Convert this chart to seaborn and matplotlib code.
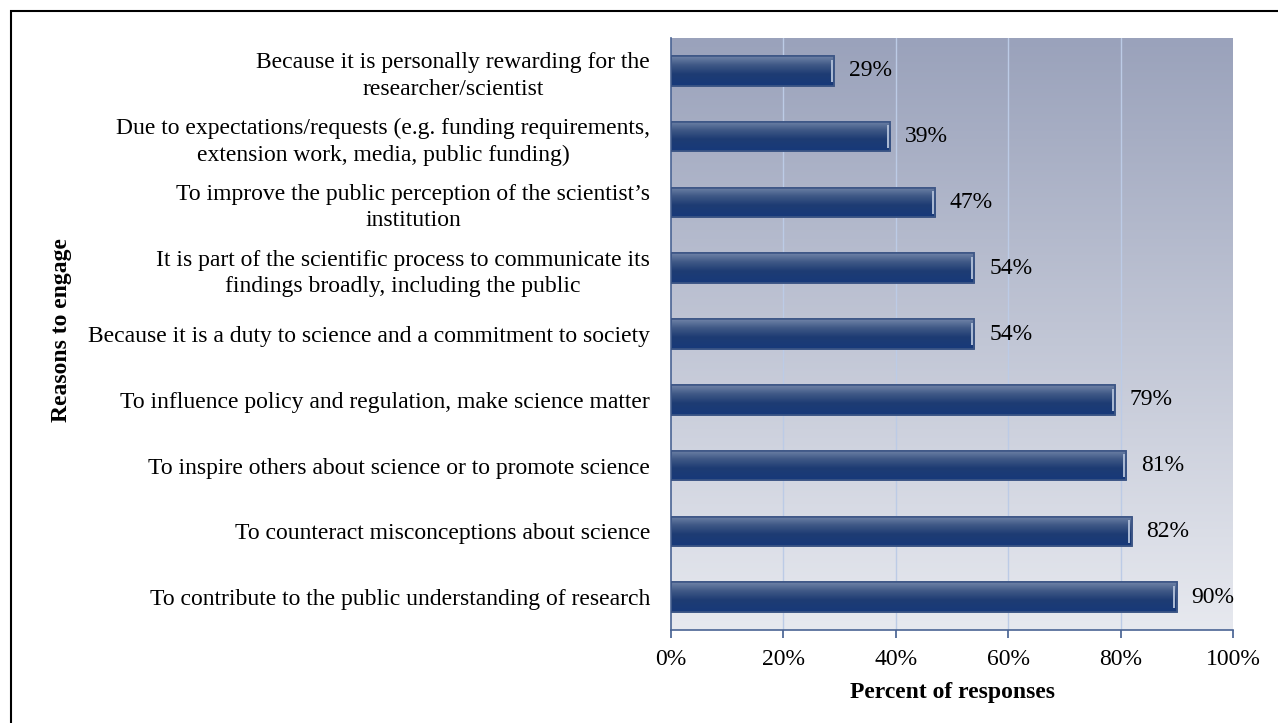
import numpy as np
import pandas as pd
import matplotlib
matplotlib.use("Agg")
import matplotlib.pyplot as plt
import seaborn as sns
from matplotlib.colors import LinearSegmentedColormap
from matplotlib.patches import Rectangle

categories = [
    "Because it is personally rewarding for the\nresearcher/scientist",
    "Due to expectations/requests (e.g. funding requirements,\nextension work, media, public funding)",
    "To improve the public perception of the scientist\u2019s\ninstitution",
    "It is part of the scientific process to communicate its\nfindings broadly, including the public",
    "Because it is a duty to science and a commitment to society",
    "To influence policy and regulation, make science matter",
    "To inspire others about science or to promote science",
    "To counteract misconceptions about science",
    "To contribute to the public understanding of research",
]
values = [29, 39, 47, 54, 54, 79, 81, 82, 90]
xticks = [0, 20, 40, 60, 80, 100]

sns.set_theme(style="white")
plt.rcParams['font.family'] = ['Liberation Serif', 'DejaVu Serif']
FS = 17

fig = plt.figure(figsize=(12.78, 7.23), dpi=100)
ax = fig.add_axes([671/1278, 1 - 630/723, (1233-671)/1278, (630-38)/723])

df = pd.DataFrame({"reason": categories, "pct": values})

# background gradient
cmap = LinearSegmentedColormap.from_list("bg", ["#9aa2bb", "#e7e9ef"])
grad = np.linspace(0, 1, 256).reshape(-1, 1)
ax.imshow(grad, cmap=cmap, aspect="auto", extent=[0, 100, 8.5, -0.5], zorder=0)

for xv in xticks[1:-1]:
    ax.axvline(xv, color="#bccbe6", lw=1, zorder=1)

sns.barplot(data=df, x="pct", y="reason", orient="h", color="#1c3f7a",
            width=0.45, saturation=1, edgecolor="#3d5686", linewidth=1.2, ax=ax, zorder=2)

# glossy vertical gradient inside each bar
bar_cmap = LinearSegmentedColormap.from_list(
    "bar", [(0, "#7084a8"), (0.3, "#3f5886"), (0.6, "#1e3c73"), (1, "#17397a")])
for p in list(ax.patches):
    x0, y0 = p.get_x(), p.get_y()
    w, h = p.get_width(), p.get_height()
    im = ax.imshow(grad, cmap=bar_cmap, aspect="auto",
                   extent=[x0, x0 + w, y0 + h, y0], zorder=2.5)
    im.set_clip_path(p)
    ax.add_patch(Rectangle((x0 + w - 0.6, y0 + h*0.12), 0.35, h*0.76,
                           color="#a9b8d2", lw=0, zorder=3))
    ax.add_patch(Rectangle((x0, y0), w, h, fill=False, edgecolor="#3d5686",
                           lw=1.2, zorder=3.5))

for i, v in enumerate(values):
    ax.text(v + 2.6, i, f"{v}%", va="center", ha="left", fontsize=FS, color="black", zorder=4)

ax.set_xlim(0, 100)
ax.set_ylim(8.5, -0.5)
ax.set_xticks(xticks)
ax.set_xticklabels([f"{t}%" for t in xticks], fontsize=FS, color="black")
ax.tick_params(axis="x", which="both", bottom=True, length=6, color="#4a6494", pad=8)
ax.tick_params(axis="y", length=0, pad=15, labelsize=FS, labelcolor="black")
for lbl in ax.get_yticklabels():
    lbl.set_multialignment("center")
    lbl.set_linespacing(1.32)

for s in ["top", "right"]:
    ax.spines[s].set_visible(False)
for s in ["left", "bottom"]:
    ax.spines[s].set_color("#4a6494")
    ax.spines[s].set_linewidth(1.2)

ax.set_xlabel("Percent of responses", fontsize=FS, fontweight="bold", labelpad=8, color="black")
ax.set_ylabel("")
fig.text(61/1278, 1 - 330/723, "Reasons to engage", rotation=90, fontsize=FS,
         fontweight="bold", ha="center", va="center", color="black")

# figure border (top and left visible)
fig.add_artist(Rectangle((11/1278, -0.1), 1.2, 1 - 11/723 + 0.1, transform=fig.transFigure,
                         fill=False, edgecolor="black", lw=1.5))

fig.savefig("out.png", dpi=100)
